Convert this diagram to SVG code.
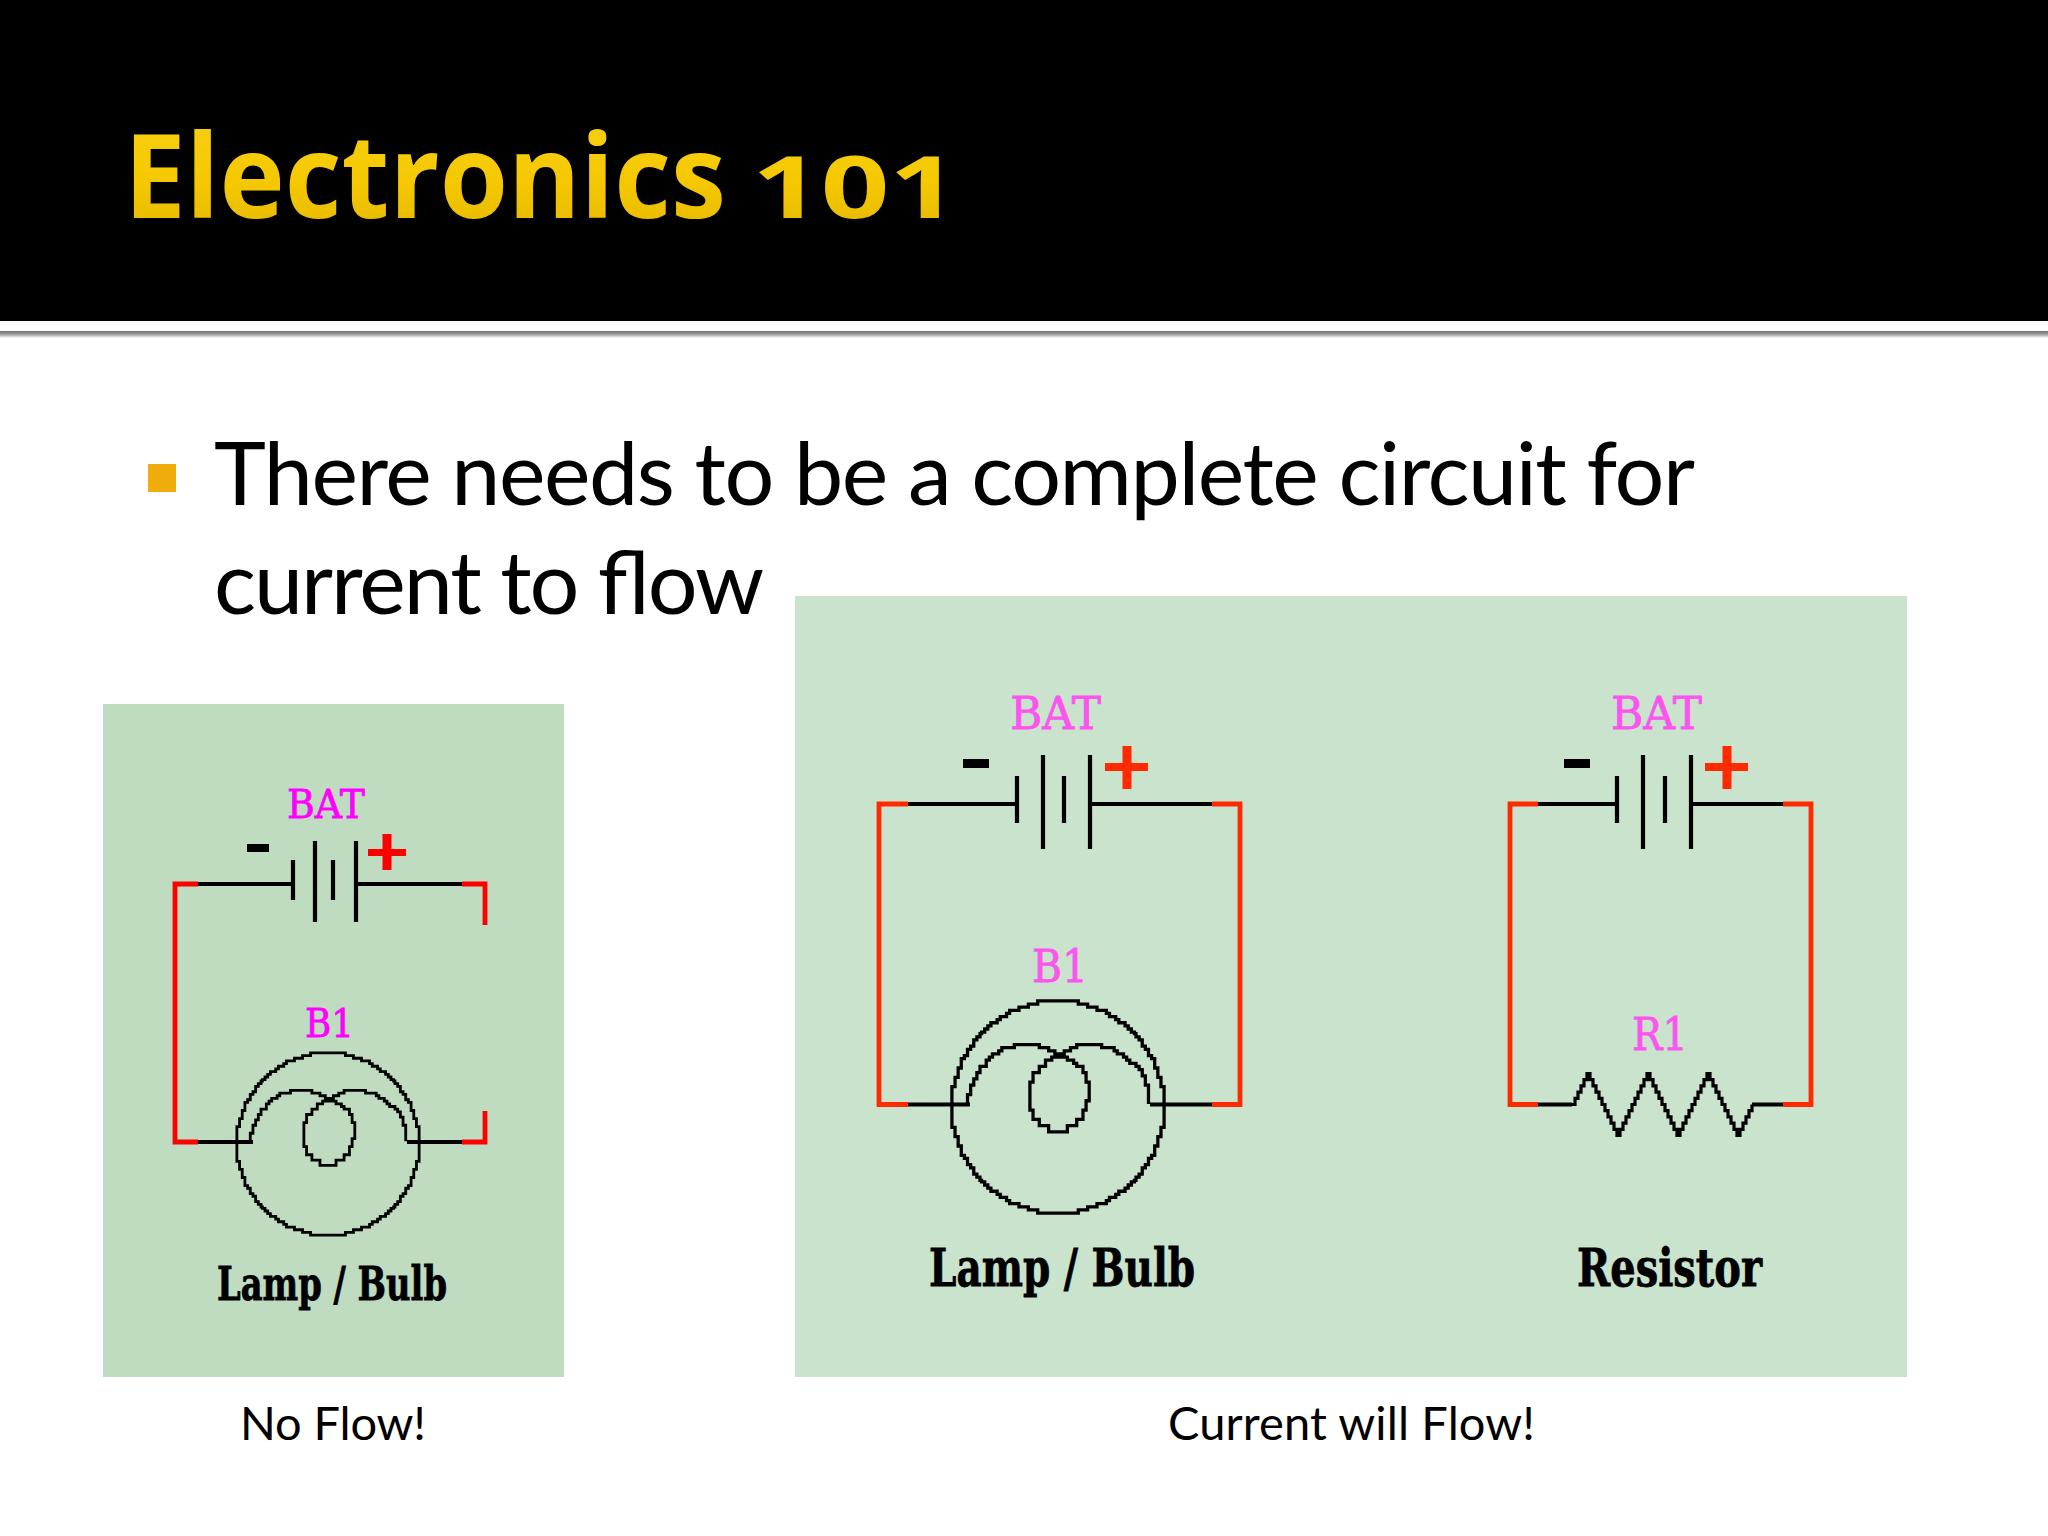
<svg xmlns="http://www.w3.org/2000/svg" width="2048" height="1536" viewBox="0 0 2048 1536">
<defs>
<linearGradient id="shade" x1="0" y1="0" x2="0" y2="1"><stop offset="0" stop-color="#6f6f6f"/><stop offset="0.5" stop-color="#a0a0a0"/><stop offset="1" stop-color="#ffffff"/></linearGradient>
<linearGradient id="gold" x1="0" y1="0" x2="0" y2="1"><stop offset="0" stop-color="#f7d21a"/><stop offset="0.55" stop-color="#f5c800"/><stop offset="1" stop-color="#e2b400"/></linearGradient>
<path id="quad" d="M0 -34H6.500V-33H9.500V-32H12.500V-31H15.500V-30H16.500V-29H18.500V-28H19.500V-27H21.500V-26H22.500V-25H23.500V-24H24.500V-23.500H25V-22.500H26V-21.500H27V-19.500H28V-18.500H29V-16.500H30V-15.500H31V-12.500H32V-9.500H33V-6.500H34V0"/>
<g id="bulb" fill="none" stroke="#000" stroke-width="1.050">
<use href="#quad"/>
<use href="#quad" transform="scale(-1 1)"/>
<use href="#quad" transform="scale(1 -1)"/>
<use href="#quad" transform="scale(-1 -1)"/>
<path d="M-29 -1V-4H-28V-7H-27V-9H-26V-11H-25V-13H-23V-15H-22V-16H-21V-17H-19V-18H-18V-19H-14V-20H-6V-19H-3V-18H-1V-17H1V-16H3V-15H5V-14H6V-13H8V-11H9V-8H10V-2H9V1H8V4H6V6H3V8H-3V6H-6V4H-8V1H-9V-8H-8V-11H-6V-13H-4V-15H-2V-16H0V-17H2V-18H4V-19H6V-20H14V-19H18V-18H19V-17H21V-16H22V-15H23V-14H25V-13H26V-12H27V-10H28V-7H29V-1"/>
</g>
</defs>
<style>
.blk{fill:none;stroke:#000;stroke-width:4.200}
.red1{fill:none;stroke:#f00;stroke-width:4.800}
.red2{fill:none;stroke:#ff2a00;stroke-width:4.800}
.body{font-family:"Lato","Open Sans",sans-serif;fill:#000}
.cap{font-family:"Lato","Open Sans",sans-serif;font-size:47px;fill:#000}
.mag1{font-family:"DejaVu Serif",serif;fill:#f0f;stroke:#f0f;stroke-width:.8;font-size:40px}
.mag2{font-family:"DejaVu Serif",serif;fill:#fb55ee;stroke:#fb55ee;stroke-width:.8;font-size:45px}
.lab{font-family:"DejaVu Serif",serif;font-weight:bold;fill:#000;stroke:#000;stroke-width:.8}
</style>
<rect width="2048" height="1536" fill="#fff"/>
<g id="header">
<rect width="2048" height="321" fill="#000"/>
<rect y="331" width="2048" height="7" fill="url(#shade)"/>
<text y="218" font-family="Open Sans,sans-serif" font-weight="700" fill="url(#gold)"><tspan x="124" font-size="116" textLength="602" lengthAdjust="spacingAndGlyphs">Electronics</tspan> <tspan x="752" font-size="86" textLength="206" lengthAdjust="spacingAndGlyphs">101</tspan></text>
</g>
<g id="bullet-text">
<rect x="148" y="464" width="28" height="28" fill="#f0ac0a"/>
<text class="body" x="214" y="505" font-size="88" textLength="1481">There needs to be a complete circuit for</text>
<text class="body" x="214" y="614" font-size="88" textLength="550">current to flow</text>
</g>
<rect id="panel-no-flow" x="103" y="704" width="461" height="673" fill="#bfdcc0"/>
<rect id="panel-flow" x="795" y="596" width="1112" height="781" fill="#cae3cc"/>
<g id="connectors">
<path class="red1" d="M198 884H175V1142H198M462 884H485V925M462 1142H485V1111"/>
<path class="blk" d="M198 884H293M356 884H462M198 1142H253M407 1142H462"/>
<path class="red2" d="M908 804H879V1104.500H908M1212 804H1240V1104.500H1212"/>
<path class="blk" d="M908 804H1017M1090 804H1212M908 1104.500H970M1150 1104.500H1212"/>
<path class="red2" d="M1538 804H1510V1104.500H1538M1783 804H1811V1104.500H1783"/>
<path class="blk" d="M1538 804H1617M1691 804H1783M1538 1104.500H1572M1752 1104.500H1783"/>
</g>
<g id="battery-1">
<path class="blk" d="M293 860V900M315 841V922M333 860V900M356 841V922"/>
<rect x="247" y="844" width="22" height="8" fill="#000"/>
<path fill="#f00" d="M368 849H382.500V834H391.500V849H406V856H391.500V870H382.500V856H368Z"/>
<text class="mag1" x="287" y="818" textLength="78" lengthAdjust="spacingAndGlyphs">BAT</text>
</g>
<g id="lamp-1">
<use href="#bulb" transform="translate(328 1144) scale(2.680)"/>
<text class="mag1" x="305" y="1037" textLength="49" lengthAdjust="spacingAndGlyphs">B1</text>
<text class="lab" x="217" y="1300" font-size="46" textLength="230" lengthAdjust="spacingAndGlyphs">Lamp / Bulb</text>
</g>
<g id="battery-2">
<path class="blk" d="M1017 776V823M1043 755V849M1064 776V823M1090 755V849"/>
<rect x="963" y="759" width="26" height="9" fill="#000"/>
<path fill="#ff2a00" d="M1105 763H1122.500V746H1131.500V763H1148V771H1131.500V789H1122.500V771H1105Z"/>
<text class="mag2" x="1010" y="729" textLength="91" lengthAdjust="spacingAndGlyphs">BAT</text>
</g>
<g id="lamp-2">
<use href="#bulb" transform="translate(1058 1107) scale(3.120)"/>
<text class="mag2" x="1032" y="982" textLength="56" lengthAdjust="spacingAndGlyphs">B1</text>
<text class="lab" x="929" y="1286" font-size="52" textLength="266" lengthAdjust="spacingAndGlyphs">Lamp / Bulb</text>
</g>
<g id="battery-3">
<path class="blk" d="M1617 776V823M1643 755V849M1665 776V823M1691 755V849"/>
<rect x="1564" y="759" width="26" height="9" fill="#000"/>
<path fill="#ff2a00" d="M1705 763H1722.500V746H1731.500V763H1748V771H1731.500V789H1722.500V771H1705Z"/>
<text class="mag2" x="1611" y="729" textLength="91" lengthAdjust="spacingAndGlyphs">BAT</text>
</g>
<g id="resistor">
<path fill="none" stroke="#000" stroke-width="3.200" d="M1572 1104.500h3v-6.200h3v-6.200h3v-6.200h3v-6.200h3v-6.200h3v6.200h3v6.200h3v6.200h3v6.200h3v6.200h3v6.200h3v6.200h3v6.200h3v6.200h3v6.200h3v-6.200h3v-6.200h3v-6.200h3v-6.200h3v-6.200h3v-6.200h3v-6.200h3v-6.200h3v-6.200h3v-6.200h3v6.200h3v6.200h3v6.200h3v6.200h3v6.200h3v6.200h3v6.200h3v6.200h3v6.200h3v6.200h3v-6.200h3v-6.200h3v-6.200h3v-6.200h3v-6.200h3v-6.200h3v-6.200h3v-6.200h3v-6.200h3v-6.200h3v6.200h3v6.200h3v6.200h3v6.200h3v6.200h3v6.200h3v6.200h3v6.200h3v6.200h3v6.200h3v-6.200h3v-6.200h3v-6.200h3v-6.200h3v-6.200"/>
<text class="mag2" x="1632" y="1050" textLength="56" lengthAdjust="spacingAndGlyphs">R1</text>
<text class="lab" x="1577" y="1286" font-size="52" textLength="185" lengthAdjust="spacingAndGlyphs">Resistor</text>
</g>
<g id="captions">
<text class="cap" x="240" y="1440" textLength="186">No Flow!</text>
<text class="cap" x="1168" y="1440" textLength="367">Current will Flow!</text>
</g>
</svg>
